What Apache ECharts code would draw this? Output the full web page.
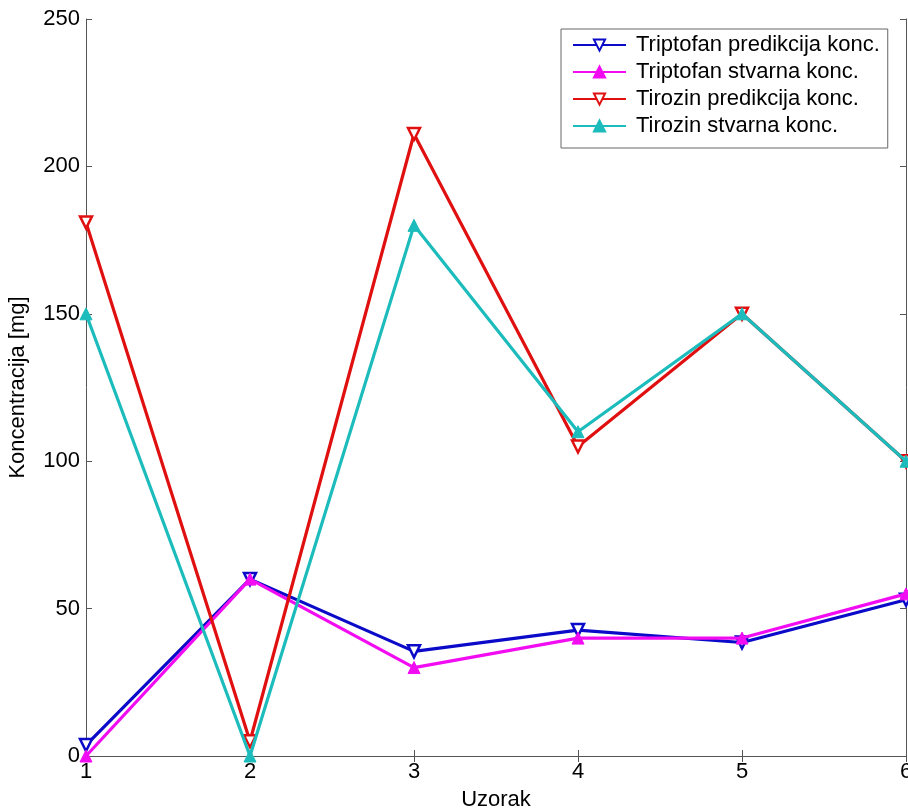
<!DOCTYPE html>
<html><head><meta charset="utf-8">
<script src="https://cdn.jsdelivr.net/npm/echarts@6/dist/echarts.min.js"></script>
<style>html,body{margin:0;padding:0;background:#fff}#c{width:908px;height:811px}</style>
</head><body><div id="c"></div>
<script>
const categories = ['1','2','3','4','5','6'];
const triptofanPred = [3.7, 60, 35.5, 42.7, 38.5, 53];
const triptofanStv = [0, 60, 30, 40, 40, 55];
const tirozinPred = [181, 5, 211, 105, 150, 100];
const tirozinStv = [150, 0, 180, 110, 150, 100];
const names = ['Triptofan predikcija konc.','Triptofan stvarna konc.','Tirozin predikcija konc.','Tirozin stvarna konc.'];
const colors = ['#0a0ac8','#f20cf2','#e01010','#1cbcbc'];

const font = 'Liberation Sans, Arial, sans-serif';
function mk(i, data, pred){
  return {
    name: names[i], type:'line', data: data.map((v,k)=>[Number(categories[k]),v]),
    symbol:'triangle', symbolSize: 12, symbolRotate: pred?180:0,
    lineStyle:{color:colors[i], width:3.2},
    itemStyle:{color: pred?'#ffffff':colors[i], borderColor:colors[i], borderWidth: pred?2.5:1},
    emphasis:{disabled:true}, animation:false, clip:false, z: 2+i
  };
}
const axisLine = {show:true, lineStyle:{color:'#555', width:1}};
const tick = {show:true, inside:true, length:6, lineStyle:{color:'#555'}};
const chart = echarts.init(document.getElementById('c'), null, {renderer:'canvas'});
chart.setOption({
  backgroundColor:'#fff',
  animation:false,
  grid:{left:86, top:19, right:2, bottom:55, containLabel:false, outerBoundsMode:'none'},
  legend:{
    show:true, orient:'vertical', left:561, top:29,
    backgroundColor:'#fff', borderColor:'#666', borderWidth:1,
    padding:[5,8,11,11], itemWidth:53, itemHeight:14, itemGap:5,
    textStyle:{fontFamily:font, fontSize:22, lineHeight:22, color:'#000', padding:[0,0,0,5]},
    data: names
  },
  xAxis:[{
    type:'value', min:1, max:6, interval:1, position:'bottom',
    name:'Uzorak', nameLocation:'middle', nameGap:33,
    nameTextStyle:{fontFamily:font, fontSize:22, color:'#000'},
    axisLine, axisTick:tick,
    axisLabel:{fontFamily:font, fontSize:22, color:'#000', margin:5},
    splitLine:{show:false}
  },{
    type:'value', min:1, max:6, interval:1, position:'top',
    axisLine, axisTick:tick,
    axisLabel:{show:false}, splitLine:{show:false}
  }],
  yAxis:[{
    type:'value', min:0, max:250, interval:50, position:'left',
    name:'Koncentracija [mg]', nameLocation:'middle', nameGap:57, nameRotate:90,
    nameTextStyle:{fontFamily:font, fontSize:22, color:'#000'},
    axisLine, axisTick:tick,
    axisLabel:{fontFamily:font, fontSize:22, color:'#000', margin:6},
    splitLine:{show:false}
  },{
    type:'value', min:0, max:250, interval:50, position:'right',
    axisLine, axisTick:tick,
    axisLabel:{show:false}, splitLine:{show:false}
  }],
  series:[
    mk(0, triptofanPred, true),
    mk(1, triptofanStv, false),
    mk(2, tirozinPred, true),
    mk(3, tirozinStv, false)
  ]
});
</script></body></html>
